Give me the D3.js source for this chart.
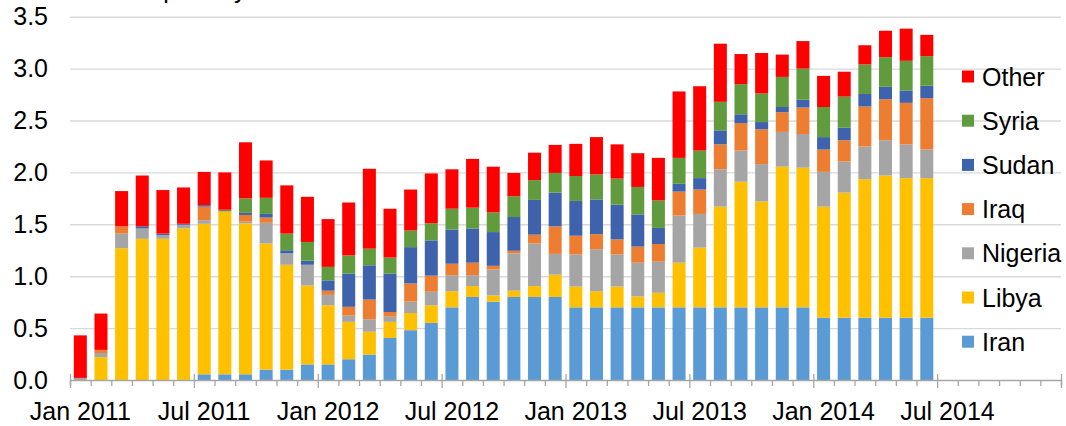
<!DOCTYPE html>
<html>
<head>
<meta charset="utf-8">
<script src="https://cdn.jsdelivr.net/npm/d3@7"></script>
<style>
  html, body { margin: 0; padding: 0; background: #fff; }
  svg { display: block; font-family: "Liberation Sans", Arial, sans-serif; }
</style>
</head>
<body>
<svg id="chart" width="1066" height="426"></svg>
<script>
// ---- Data (million barrels per day), monthly Jan 2011 – Jun 2014 ----
const seriesNames = ["Iran", "Libya", "Nigeria", "Iraq", "Sudan", "Syria", "Other"];
const seriesColors = ["#5B9BD5", "#FFC000", "#A5A5A5", "#ED7D31", "#3E63AC", "#629B3E", "#FF0000"];

const iran = [0, 0, 0, 0, 0, 0, 0.055, 0.055, 0.055, 0.10, 0.10, 0.15,
  0.15, 0.20, 0.245, 0.405, 0.48, 0.55, 0.70, 0.80, 0.755, 0.80, 0.80, 0.80,
  0.70, 0.70, 0.70, 0.70, 0.70, 0.70, 0.70, 0.70, 0.70, 0.70, 0.70, 0.70,
  0.60, 0.60, 0.60, 0.60, 0.60, 0.60];
const libya = [0, 0.22, 1.27, 1.36, 1.36, 1.46, 1.45, 1.565, 1.455, 1.215, 1.01, 0.76,
  0.57, 0.36, 0.22, 0.155, 0.165, 0.17, 0.155, 0.105, 0.06, 0.06, 0.105, 0.215,
  0.20, 0.155, 0.20, 0.105, 0.14, 0.43, 0.575, 0.97, 1.21, 1.02, 1.355, 1.345,
  1.07, 1.205, 1.335, 1.37, 1.345, 1.345];
const nigeria = [0.02, 0.04, 0.14, 0.10, 0.035, 0.035, 0.035, 0, 0.015, 0.20, 0.11, 0.20,
  0.10, 0.06, 0.12, 0.05, 0.11, 0.13, 0.155, 0.105, 0.25, 0.36, 0.41, 0.20,
  0.31, 0.405, 0.31, 0.325, 0.30, 0.455, 0.325, 0.36, 0.30, 0.36, 0.335, 0.325,
  0.335, 0.30, 0.315, 0.34, 0.325, 0.275];
const iraq = [0, 0.03, 0.07, 0, 0, 0, 0.13, 0.005, 0.065, 0.05, 0, 0,
  0.04, 0.085, 0.19, 0.045, 0.175, 0.155, 0.11, 0.12, 0.035, 0.025, 0.085, 0.265,
  0.18, 0.145, 0.145, 0.155, 0.17, 0.23, 0.235, 0.24, 0.265, 0.335, 0.19, 0.255,
  0.215, 0.205, 0.385, 0.395, 0.40, 0.495];
const sudan = [0, 0, 0, 0.02, 0.015, 0.01, 0.015, 0, 0.02, 0.035, 0.03, 0.04,
  0.10, 0.32, 0.33, 0.37, 0.35, 0.34, 0.33, 0.33, 0.325, 0.325, 0.335, 0.325,
  0.335, 0.335, 0.335, 0.31, 0.155, 0.075, 0.11, 0.135, 0.085, 0.07, 0.05, 0.075,
  0.12, 0.12, 0.12, 0.12, 0.12, 0.12];
const syria = [0, 0, 0, 0, 0, 0, 0, 0.015, 0.14, 0.155, 0.16, 0.18,
  0.13, 0.175, 0.16, 0.155, 0.16, 0.165, 0.20, 0.20, 0.19, 0.20, 0.19, 0.19,
  0.24, 0.24, 0.25, 0.265, 0.265, 0.25, 0.265, 0.275, 0.29, 0.275, 0.29, 0.30,
  0.29, 0.30, 0.285, 0.285, 0.285, 0.285];
const other = [0.41, 0.35, 0.34, 0.49, 0.42, 0.35, 0.32, 0.36, 0.54, 0.36, 0.465, 0.435,
  0.46, 0.51, 0.77, 0.47, 0.395, 0.48, 0.38, 0.47, 0.44, 0.225, 0.265, 0.27,
  0.31, 0.36, 0.33, 0.325, 0.41, 0.64, 0.62, 0.56, 0.29, 0.39, 0.215, 0.265,
  0.30, 0.24, 0.185, 0.255, 0.31, 0.205];

// Axis categories: Jan 2011 .. Dec 2014 (48 months)
const monthNames = ["Jan","Feb","Mar","Apr","May","Jun","Jul","Aug","Sep","Oct","Nov","Dec"];
const years = [2011, 2012, 2013, 2014];
const categories = years.flatMap(yr => monthNames.map(m => m + " " + yr));
const tickLabels = ["Jan 2011", "Jul 2011", "Jan 2012", "Jul 2012", "Jan 2013", "Jul 2013", "Jan 2014", "Jul 2014"];
const yTicks = [0, 0.5, 1.0, 1.5, 2.0, 2.5, 3.0, 3.5];
const titleText = "million barrels per day";

// ---- Build table ----
const seriesValues = [iran, libya, nigeria, iraq, sudan, syria, other];
const table = iran.map((_, i) => {
  const row = { cat: categories[i] };
  seriesNames.forEach((n, k) => row[n] = seriesValues[k][i]);
  return row;
});

// ---- Layout ----
const svg = d3.select("#chart");
const mLeft = 70, mRight = 1061, mTop = 16.7, mBottom = 380;

const x = d3.scaleBand().domain(categories).range([mLeft, mRight])
  .paddingInner(0.37).paddingOuter(0.185);
const xb = d3.scaleLinear().domain([0, categories.length]).range([mLeft, mRight]);
const y = d3.scaleLinear().domain([0, 3.5]).range([mBottom, mTop]);
const color = d3.scaleOrdinal().domain(seriesNames).range(seriesColors);

// clipped title at top
svg.append("text").attr("x", 2).attr("y", -2)
  .attr("font-size", 25).attr("fill", "#000").text(titleText);

// gridlines
svg.append("g").attr("transform", `translate(${mLeft},0)`)
  .call(d3.axisLeft(y).tickValues(yTicks.slice(1)).tickSize(-(mRight - mLeft)).tickFormat(""))
  .call(g => g.select(".domain").remove())
  .call(g => g.selectAll("line").attr("stroke", "#D9D9D9").attr("stroke-width", 1.4));

// y labels
svg.append("g").attr("transform", `translate(${mLeft},0)`)
  .call(d3.axisLeft(y).tickValues(yTicks).tickSize(0).tickPadding(22).tickFormat(d3.format(".1f")))
  .call(g => g.select(".domain").remove())
  .call(g => g.selectAll("text").attr("font-size", 25).attr("fill", "#000")
    .attr("font-family", "'Liberation Sans', Arial, sans-serif"));

// bars
const stacked = d3.stack().keys(seriesNames)(table);
svg.append("g").selectAll("g").data(stacked).join("g")
  .attr("fill", d => color(d.key))
  .selectAll("rect").data(d => d).join("rect")
  .attr("x", d => x(d.data.cat))
  .attr("width", x.bandwidth())
  .attr("y", d => y(d[1]))
  .attr("height", d => Math.max(0, y(d[0]) - y(d[1])));

// x axis line + month ticks
const xAxisG = svg.append("g").attr("transform", `translate(0,${mBottom})`);
xAxisG.call(d3.axisBottom(xb).tickValues(d3.range(0, categories.length + 1)).tickSize(6).tickFormat(""))
  .call(g => g.select(".domain").attr("stroke", "#A6A6A6").attr("stroke-width", 1.4))
  .call(g => g.selectAll(".tick line").attr("stroke", "#A6A6A6").attr("stroke-width", 1.3)
    .attr("y1", (d) => d % 6 === 0 ? -6 : 0)
    .attr("y2", (d) => d % 6 === 0 ? 8 : 6));

// x labels at Jan / Jul
svg.append("g").selectAll("text").data(tickLabels).join("text")
  .attr("x", (d, i) => x(categories[i * 6]) + x.bandwidth() / 2)
  .attr("y", 420)
  .attr("text-anchor", "middle")
  .attr("font-size", 25).attr("fill", "#000")
  .text(d => d);

// legend (top = Other)
const legendOrder = seriesNames.slice().reverse();
const lg = svg.append("g").selectAll("g").data(legendOrder).join("g")
  .attr("transform", (d, i) => `translate(962,${76.5 + i * 44.2})`);
lg.append("rect").attr("x", 0).attr("y", -6).attr("width", 12).attr("height", 12)
  .attr("fill", d => color(d));
lg.append("text").attr("x", 20).attr("y", 9).attr("font-size", 25).attr("fill", "#000").text(d => d);
</script>
</body>
</html>
